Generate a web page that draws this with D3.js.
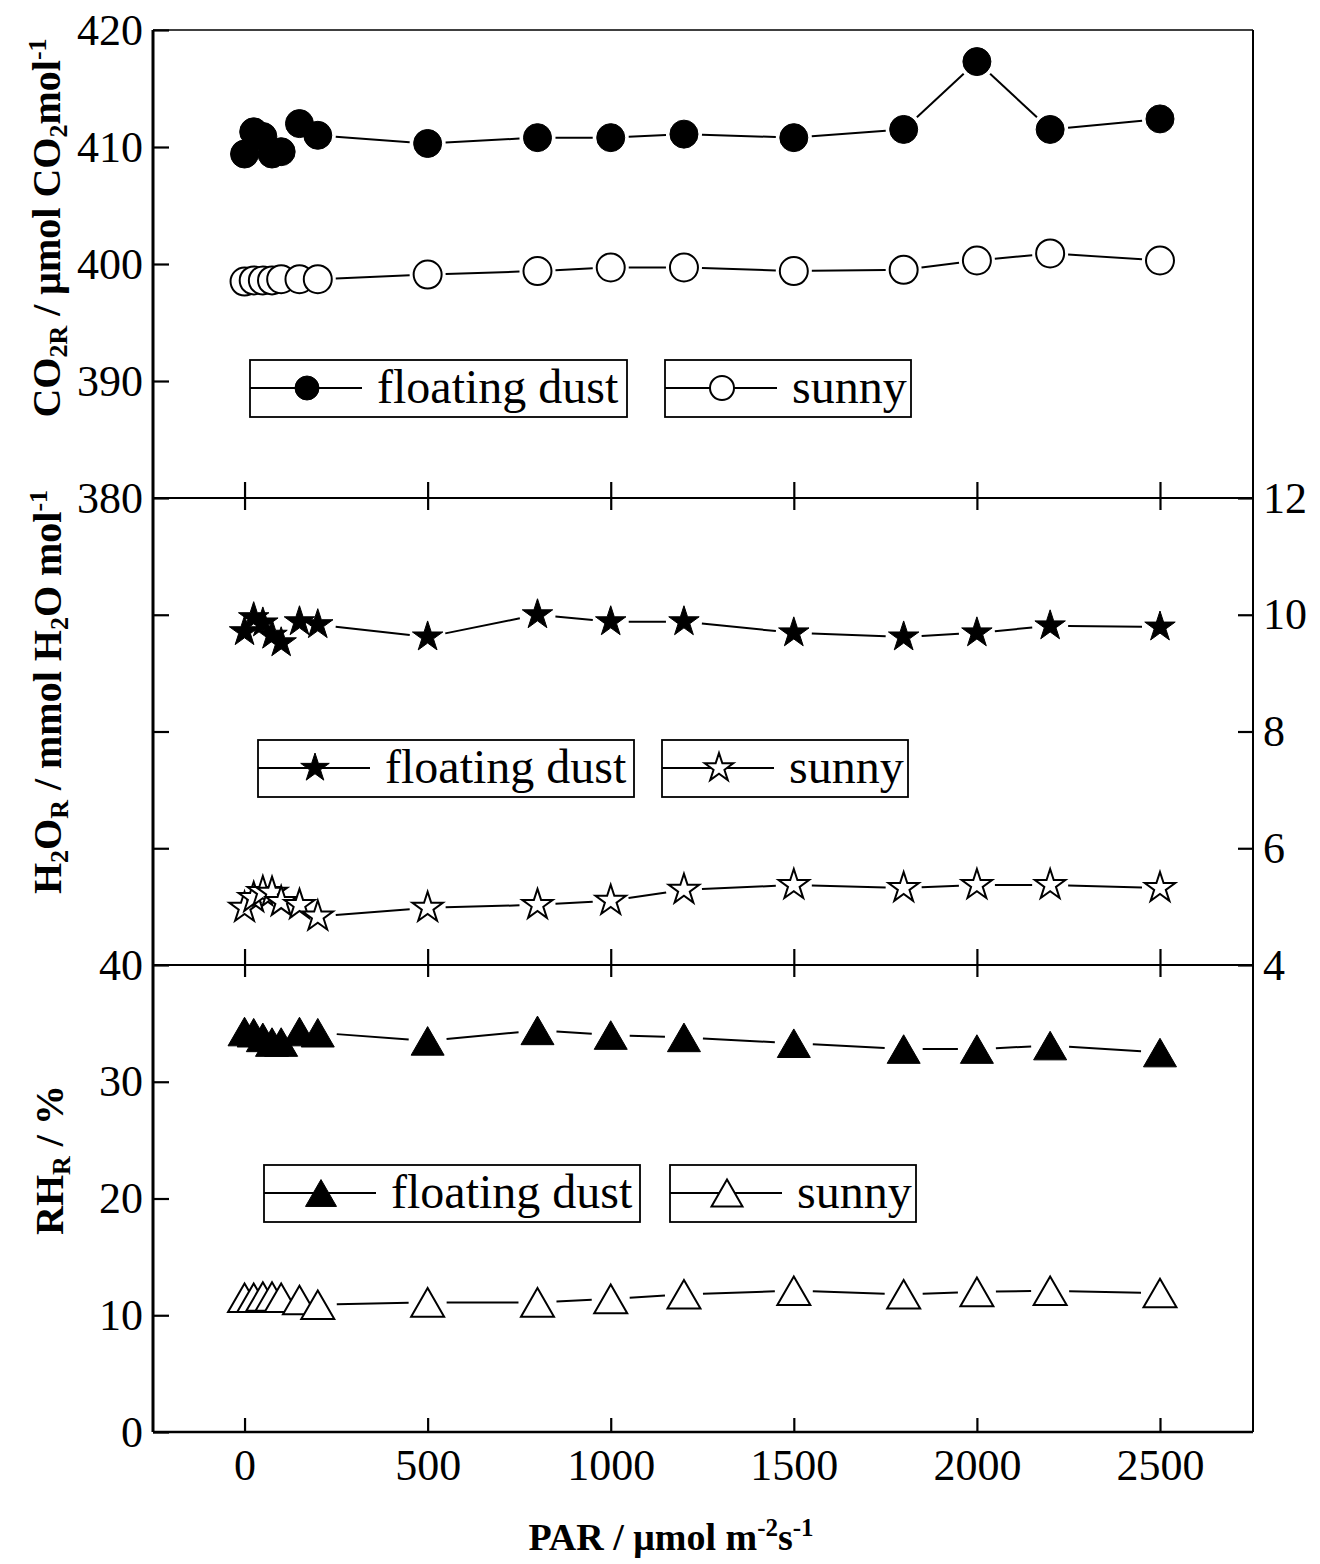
<!DOCTYPE html>
<html>
<head>
<meta charset="utf-8">
<script src="https://cdn.jsdelivr.net/npm/d3@7"></script>
<style>
  html, body { margin: 0; padding: 0; background: #fff; }
  svg { display: block; font-family: "Liberation Serif", "Times New Roman", serif; }
  .tick text { fill: #000; font-family: "Liberation Serif", "Times New Roman", serif; }
</style>
</head>
<body>
<div id="chart"></div>
<script>
// ---- data ----
const parX = [0, 25, 50, 75, 100, 150, 200, 500, 800, 1000, 1200, 1500, 1800, 2000, 2200, 2500];

const co2Dust  = [409.4, 411.3, 410.9, 409.4, 409.6, 412.0, 411.0, 410.3, 410.8, 410.8, 411.1, 410.8, 411.5, 417.3, 411.5, 412.4];
const co2Sunny = [398.5, 398.6, 398.6, 398.6, 398.7, 398.7, 398.7, 399.1, 399.4, 399.7, 399.7, 399.4, 399.5, 400.3, 400.9, 400.3];

const h2oDust  = [9.71, 9.95, 9.86, 9.65, 9.52, 9.88, 9.83, 9.62, 10.0, 9.88, 9.88, 9.69, 9.62, 9.69, 9.81, 9.79];
const h2oSunny = [4.98, 5.15, 5.25, 5.24, 5.08, 5.03, 4.83, 4.98, 5.03, 5.10, 5.29, 5.37, 5.32, 5.37, 5.37, 5.32];

const rhDust  = [34.3, 34.2, 33.8, 33.4, 33.4, 34.3, 34.2, 33.5, 34.4, 34.0, 33.8, 33.3, 32.8, 32.8, 33.1, 32.5];
const rhSunny = [11.5, 11.5, 11.6, 11.6, 11.5, 11.3, 10.9, 11.1, 11.1, 11.4, 11.8, 12.1, 11.8, 12.0, 12.1, 11.9];

const xTicks   = [0, 500, 1000, 1500, 2000, 2500];
const co2Ticks = [380, 390, 400, 410, 420];
const h2oTicks = [4, 6, 8, 10, 12];
const rhTicks  = [0, 10, 20, 30, 40];
const legendNames = ["floating dust", "sunny"];

// ---- layout ----
const W = 1320, H = 1564;
const L = 153, R = 1253;
const T1 = 30, B1 = 498, B2 = 965, B3 = 1432;
const SERIF = '"Liberation Serif", "Times New Roman", serif';

const svg = d3.select("#chart").append("svg")
  .attr("width", W).attr("height", H)
  .attr("viewBox", [0, 0, W, H]);

svg.append("rect").attr("width", W).attr("height", H).attr("fill", "#fff");

const x = d3.scaleLinear().domain([-250, 2754]).range([L, R]);
const yCo2 = d3.scaleLinear().domain([380, 420]).range([B1, T1]);
const yH2o = d3.scaleLinear().domain([4, 12]).range([B2, B1]);
const yRh  = d3.scaleLinear().domain([0, 40]).range([B3, B2]);

// triangle centred on its bounding box (Origin style)
const triBox = {
  draw(ctx, size) {
    const w = Math.sqrt(size), h = w * 0.866;
    ctx.moveTo(0, -h / 2);
    ctx.lineTo(w / 2, h / 2);
    ctx.lineTo(-w / 2, h / 2);
    ctx.closePath();
  }
};
const starSize = (r) => (r * r) / 0.8908130915292852;

const markers = {
  circle:   { type: d3.symbolCircle, size: Math.PI * 14 * 14, r: 14, legend: Math.PI * 12 * 12 },
  star:     { type: d3.symbolStar, size: starSize(16), r: 14, legend: starSize(15) },
  triangle: { type: triBox, size: 33 * 33, r: 15, legend: 31 * 31 }
};

const plain = d => String(d);

// ---- axes ----
function cleanAxis(g) {
  g.attr("font-family", SERIF).attr("font-size", 44);
  g.select(".domain").remove();
  g.selectAll(".tick line").attr("stroke", "#000").attr("stroke-width", 2.2);
  g.selectAll(".tick text").attr("fill", "#000");
}

// left axes (ticks inward)
svg.append("g").attr("transform", `translate(${L},0)`)
  .call(d3.axisLeft(yCo2).tickValues(co2Ticks).tickSize(-16).tickPadding(10).tickFormat(plain))
  .call(cleanAxis);
svg.append("g").attr("transform", `translate(${L},0)`)
  .call(d3.axisLeft(yH2o).tickValues(h2oTicks.slice(1, -1)).tickSize(-16).tickFormat(""))
  .call(cleanAxis);
svg.append("g").attr("transform", `translate(${L},0)`)
  .call(d3.axisLeft(yRh).tickValues(rhTicks).tickSize(-16).tickPadding(10).tickFormat(plain))
  .call(cleanAxis);

// right axis of the middle panel
svg.append("g").attr("transform", `translate(${R},0)`)
  .call(d3.axisRight(yH2o).tickValues(h2oTicks).tickSize(-15).tickPadding(10).tickFormat(plain))
  .call(cleanAxis);

// x ticks: crossing at panel joins, inward at bottom
[B1, B2].forEach(yy => {
  svg.append("g").attr("transform", `translate(0,${yy})`)
    .call(d3.axisBottom(x).tickValues(xTicks).tickSize(-16).tickFormat(""))
    .call(cleanAxis);
  svg.append("g").attr("transform", `translate(0,${yy})`)
    .call(d3.axisTop(x).tickValues(xTicks).tickSize(-12).tickFormat(""))
    .call(cleanAxis);
});
svg.append("g").attr("transform", `translate(0,${B3})`)
  .call(d3.axisBottom(x).tickValues(xTicks).tickSize(-14).tickPadding(17).tickFormat(plain))
  .call(cleanAxis);

// frame
const frame = svg.append("g").attr("stroke", "#000").attr("fill", "none");
frame.append("line").attr("x1", L).attr("x2", R).attr("y1", T1).attr("y2", T1).attr("stroke-width", 1.5);
frame.append("line").attr("x1", L).attr("x2", R).attr("y1", B1).attr("y2", B1).attr("stroke-width", 2);
frame.append("line").attr("x1", L).attr("x2", R).attr("y1", B2).attr("y2", B2).attr("stroke-width", 2);
frame.append("line").attr("x1", L).attr("x2", R).attr("y1", B3).attr("y2", B3).attr("stroke-width", 2.5);
frame.append("line").attr("x1", R).attr("x2", R).attr("y1", T1).attr("y2", B3).attr("stroke-width", 2);
frame.append("line").attr("x1", L).attr("x2", L).attr("y1", T1).attr("y2", B3).attr("stroke-width", 3);

// ---- series ----
function drawSeries(values, yScale, kind, filled) {
  const m = markers[kind];
  const pts = parX.map((v, i) => [x(v), yScale(values[i])]);
  const g = svg.append("g");
  const gap = m.r + 4;
  for (let i = 0; i < pts.length - 1; i++) {
    const [x1, y1] = pts[i], [x2, y2] = pts[i + 1];
    const d = Math.hypot(x2 - x1, y2 - y1);
    if (d <= 2 * gap) continue;
    const ux = (x2 - x1) / d, uy = (y2 - y1) / d;
    g.append("line")
      .attr("x1", x1 + ux * gap).attr("y1", y1 + uy * gap)
      .attr("x2", x2 - ux * gap).attr("y2", y2 - uy * gap)
      .attr("stroke", "#000").attr("stroke-width", 2);
  }
  g.selectAll("path.mk").data(pts).join("path")
    .attr("class", "mk")
    .attr("transform", d => `translate(${d[0]},${d[1]})`)
    .attr("d", d3.symbol().type(m.type).size(m.size)())
    .attr("fill", filled ? "#000" : "#fff")
    .attr("stroke", "#000")
    .attr("stroke-width", filled ? 1 : 2);
}

drawSeries(co2Dust, yCo2, "circle", true);
drawSeries(co2Sunny, yCo2, "circle", false);
drawSeries(h2oDust, yH2o, "star", true);
drawSeries(h2oSunny, yH2o, "star", false);
drawSeries(rhDust, yRh, "triangle", true);
drawSeries(rhSunny, yRh, "triangle", false);

// ---- legends ----
function legendBox(x0, x1, yTop, kind, filled, label) {
  const m = markers[kind];
  const g = svg.append("g");
  const yc = yTop + 28;
  g.append("rect").attr("x", x0).attr("y", yTop).attr("width", x1 - x0).attr("height", 57)
    .attr("fill", "#fff").attr("stroke", "#000").attr("stroke-width", 1.8);
  g.append("line").attr("x1", x0).attr("x2", x0 + 112).attr("y1", yc).attr("y2", yc)
    .attr("stroke", "#000").attr("stroke-width", 2);
  g.append("path").attr("transform", `translate(${x0 + 57},${yc})`)
    .attr("d", d3.symbol().type(m.type).size(m.legend)())
    .attr("fill", filled ? "#000" : "#fff").attr("stroke", "#000").attr("stroke-width", filled ? 1 : 2);
  g.append("text").attr("x", x0 + 127).attr("y", yc + 15)
    .style("font-size", "48px").text(label);
}

legendBox(250, 627, 360, "circle", true, legendNames[0]);
legendBox(665, 911, 360, "circle", false, legendNames[1]);
legendBox(258, 634, 740, "star", true, legendNames[0]);
legendBox(662, 908, 740, "star", false, legendNames[1]);
legendBox(264, 640, 1165, "triangle", true, legendNames[0]);
legendBox(670, 916, 1165, "triangle", false, legendNames[1]);

// ---- axis titles ----
function rotTitle(xb, yc, size, parts) {
  const t = svg.append("text")
    .attr("transform", `translate(${xb},${yc}) rotate(-90)`)
    .attr("text-anchor", "middle")
    .style("font-size", size + "px").style("font-weight", "bold");
  addParts(t, parts, size);
}
function addParts(t, parts, size) {
  parts.forEach(p => {
    const s = t.append("tspan").text(p.t);
    if (p.sub) s.style("font-size", Math.round(size * 0.66) + "px").attr("baseline-shift", "-28%");
    if (p.sup) s.style("font-size", Math.round(size * 0.66) + "px").attr("baseline-shift", "55%");
  });
}

rotTitle(60, 228, 40, [
  { t: "CO" }, { t: "2R", sub: true }, { t: " / μmol CO" }, { t: "2", sub: true },
  { t: "mol" }, { t: "-1", sup: true }
]);
rotTitle(61, 692, 40, [
  { t: "H" }, { t: "2", sub: true }, { t: "O" }, { t: "R", sub: true },
  { t: " / mmol H" }, { t: "2", sub: true }, { t: "O mol" }, { t: "-1", sup: true }
]);
rotTitle(63, 1160, 40, [
  { t: "RH" }, { t: "R", sub: true }, { t: " / %" }
]);

const xt = svg.append("text")
  .attr("x", 671).attr("y", 1550)
  .attr("text-anchor", "middle")
  .style("font-size", "38px").style("font-weight", "bold");
addParts(xt, [{ t: "PAR / μmol m" }, { t: "-2", sup: true }, { t: "s" }, { t: "-1", sup: true }], 38);
</script>
</body>
</html>
